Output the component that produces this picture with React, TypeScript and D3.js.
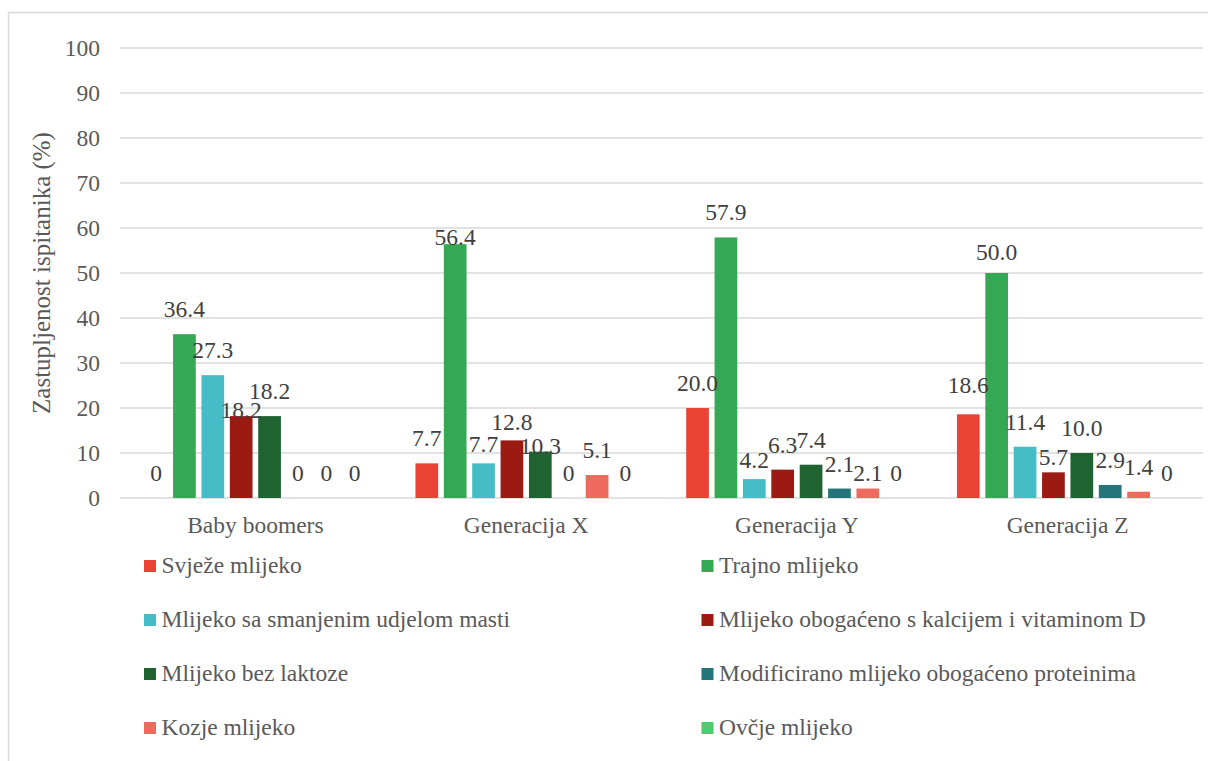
import React from 'react';
import * as d3 from 'd3';

const categories = ['Baby boomers', 'Generacija X', 'Generacija Y', 'Generacija Z'];
const seriesNames = [
    'Svježe mlijeko',
    'Trajno mlijeko',
    'Mlijeko sa smanjenim udjelom masti',
    'Mlijeko obogaćeno s kalcijem i vitaminom D',
    'Mlijeko bez laktoze',
    'Modificirano mlijeko obogaćeno proteinima',
    'Kozje mlijeko',
    'Ovčje mlijeko'
];
const seriesColors = ['#EA4335', '#34A853', '#46BDC6', '#9B1B12', '#1F6331', '#24757A', '#EF6A5E', '#4ECA6F'];
// values per series, in category order
const svjeze = [0, 7.7, 20.0, 18.6];
const trajno = [36.4, 56.4, 57.9, 50.0];
const smanjeno = [27.3, 7.7, 4.2, 11.4];
const kalcij = [18.2, 12.8, 6.3, 5.7];
const bezLaktoze = [18.2, 10.3, 7.4, 10.0];
const modificirano = [0, 0, 2.1, 2.9];
const kozje = [0, 5.1, 2.1, 1.4];
const ovcje = [0, 0, 0, 0];
const seriesValues = [svjeze, trajno, smanjeno, kalcij, bezLaktoze, modificirano, kozje, ovcje];
const yTicks = [0, 10, 20, 30, 40, 50, 60, 70, 80, 90, 100];

const width = 1208;
const height = 761;
const plotLeft = 120;
const plotRight = 1203;
const plotTop = 48;
const plotBottom = 498;
const font = 'Liberation Serif, Tinos, Times New Roman, DejaVu Serif, serif';
const textColor = '#595959';

// Excel moved some overlapping labels down; key = "series-category"
const labelDy: Record<string, number> = {
    '3-0': 19, '1-1': 18, '2-1': 6, '3-1': 7, '4-1': 19,
    '2-2': 6, '6-2': 9, '0-3': -4, '1-3': 4, '3-3': 10
};

const App: React.FC = () => {
    const x0 = d3.scaleBand<string>().domain(categories).range([plotLeft, plotRight]);
    const x1 = d3.scaleBand<number>().domain(d3.range(seriesNames.length))
        .range([0, x0.bandwidth()]).paddingInner(0.2).paddingOuter(0.87);
    const y = d3.scaleLinear().domain([0, 100]).range([plotBottom, plotTop]);
    const fmt = (v: number) => (v === 0 ? '0' : v.toFixed(1));

    return (
        <div style={{ position: 'absolute', left: 0, top: 0 }}>
            <svg width={width} height={height} fontFamily={font} style={{ display: 'block' }}>
                <rect x={0} y={0} width={width} height={height} fill="#fff" />
                <rect x={8.5} y={12.5} width={1220} height={780} fill="none" stroke="#d9d9d9" strokeWidth={1.5} />
                <g>
                    {yTicks.map(t => (
                        <line key={t} x1={plotLeft} x2={plotRight} y1={y(t)} y2={y(t)} stroke="#d9d9d9" strokeWidth={1.5} />
                    ))}
                </g>
                <g fontSize={23.5} fill={textColor} textAnchor="end" fontFamily={font}>
                    {yTicks.map(t => (
                        <text key={t} x={100} y={y(t) + 8}>{t}</text>
                    ))}
                </g>
                <text transform={`translate(50,${(plotTop + plotBottom) / 2}) rotate(-90)`} textAnchor="middle"
                    fontSize={25} fill={textColor} fontFamily={font}>Zastupljenost ispitanika (%)</text>
                {seriesValues.map((vals, si) => (
                    <g key={si} fill={seriesColors[si]}>
                        {vals.map((v, ci) => (
                            <rect key={ci} x={(x0(categories[ci]) ?? 0) + (x1(si) ?? 0)} y={y(v)}
                                width={x1.bandwidth()} height={plotBottom - y(v)} />
                        ))}
                    </g>
                ))}
                <g fontSize={23.5} fill="#404040" textAnchor="middle" fontFamily={font}>
                    {seriesValues.map((vals, si) => vals.map((v, ci) => (
                        <text key={`${si}-${ci}`} x={(x0(categories[ci]) ?? 0) + (x1(si) ?? 0) + x1.bandwidth() / 2}
                            y={y(v) - 17 + (labelDy[`${si}-${ci}`] ?? 0)}>{fmt(v)}</text>
                    )))}
                </g>
                <g fontSize={23.5} fill={textColor} textAnchor="middle" fontFamily={font}>
                    {categories.map(c => (
                        <text key={c} x={(x0(c) ?? 0) + x0.bandwidth() / 2} y={533}>{c}</text>
                    ))}
                </g>
                <g fontSize={23.5} fill={textColor} fontFamily={font}>
                    {seriesNames.map((name, i) => {
                        const col = i % 2;
                        const row = Math.floor(i / 2);
                        const lx = col === 0 ? 144 : 701.5;
                        const ly = 573 + row * 54;
                        return (
                            <g key={name}>
                                <rect x={lx} y={ly - 13} width={12} height={12} fill={seriesColors[i]} />
                                <text x={lx + 17.5} y={ly}>{name}</text>
                            </g>
                        );
                    })}
                </g>
            </svg>
        </div>
    );
};

export default App;
